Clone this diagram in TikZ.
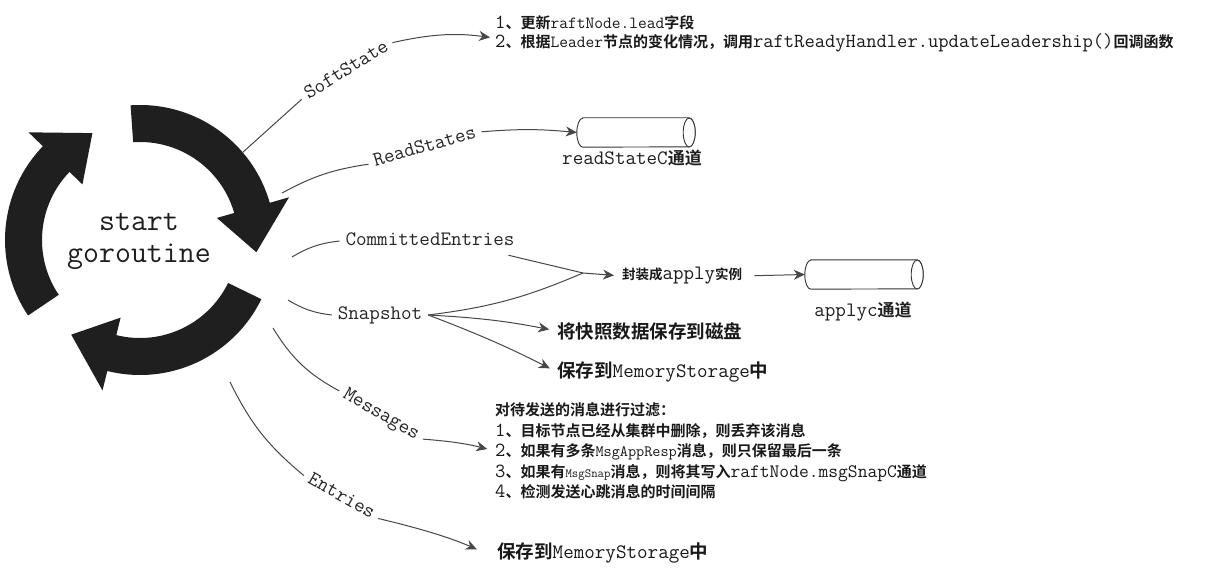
\documentclass[tikz,border=0pt]{standalone}
\usepackage{fontspec}
\newfontfamily\cjk{Noto Sans CJK SC Bold}
\usetikzlibrary{arrows.meta,calc}
\newcommand\z[2][15]{{\cjk\fontsize{#1}{#1}\selectfont #2}}
\newcommand\mz[2]{{\fontsize{#1}{#1}\selectfont #2}}
\newcommand\cylpath[1]{%
  \draw[cylstyle] ($(#1.north west)+(6,0)$) -- ($(#1.north east)+(-6,0)$)
    arc[start angle=90, end angle=-90, x radius=6pt, y radius=14.5pt]
    -- ($(#1.south west)+(6,0)$)
    arc[start angle=270, end angle=90, x radius=6pt, y radius=14.5pt] -- cycle;
  \draw[cylstyle] ($(#1.east)+(-6,0)$) ellipse[x radius=6pt, y radius=14.5pt];}
\begin{document}
\begin{tikzpicture}[x=1pt,y=-1pt,
  ink/.style={text=black!88},
  conn/.style={draw=black!72, line width=1pt},
  arr/.style={conn, -{Stealth[length=11pt,width=10pt,inset=3.5pt]}},
  lbl/.style={font=\ttfamily\fontsize{20.5}{20.5}\selectfont, text=black!85,
    inner sep=0pt, outer sep=6pt, text height=12.5pt, text depth=4pt},
  tgt/.style={text=black!90, inner sep=0pt, anchor=west},
  bigarr/.style={fill=black!88},
  cylstyle/.style={draw=black!80, line width=0.9pt, fill=white},
  cylnode/.style={minimum width=118pt, minimum height=29pt, inner sep=0pt},
]
\useasboundingbox (0,0) rectangle (1215,575);
\fill[white] (0,0) rectangle (1215,575);

% circular arrows
\coordinate (C) at (140,240);
\foreach \t [evaluate=\t as \b using \t-78, evaluate=\t as \p using \t-100] in {94,-26,-146}
  \fill[bigarr] ($(C)+(\t:135pt)$) arc[start angle=\t, end angle=\b, radius=135pt]
    -- ($(C)+(\b:155pt)$) -- ($(C)+(\p:117pt)$) -- ($(C)+(\b:80pt)$)
    -- ($(C)+(\b:98pt)$) arc[start angle=\b, end angle=\t, radius=98pt] -- cycle;

\node[ink, font=\ttfamily\fontsize{31}{32}\selectfont, align=center, inner sep=0pt] (start) at (139,241.5) {start\\goroutine};

% start points on the circle
\coordinate (s1) at (242,153);
\coordinate (s2) at (282,193);
\coordinate (s3) at (292,257);
\coordinate (s4) at (288,300);
\coordinate (s5) at (273,328);
\coordinate (s6) at (230,382);

% labels
\node[lbl, rotate=32] (lsoft) at (347,71) {SoftState};
\node[lbl, rotate=16] (lread) at (425,148) {ReadStates};
\node[lbl] (lce) at (430,241) {CommittedEntries};
\node[lbl] (lsnap) at (380,315) {Snapshot};
\node[lbl, rotate=-30] (lmsg) at (381,415) {Messages};
\node[lbl, rotate=-30] (lent) at (341,497) {Entries};

% targets
\node[tgt, align=left, font=\ttfamily\fontsize{20}{18.5}\selectfont] (soft) at (495,34)
  {1\z{、更新}\mz{17}{raftNode.lead}\z{字段}\\
   2\z{、根据}\mz{17}{Leader}\z{节点的变化情况，调用}raftReadyHandler.updateLeadership()\z{回调函数}};

\node[cylnode] (rsc) at (636,132.5) {};
\cylpath{rsc}
\node[ink, font=\ttfamily\fontsize{20.5}{20.5}\selectfont, inner sep=0pt] (rsclbl) at (632,158) {readStateC\z[17]{通道}};

\node[tgt, font=\ttfamily\fontsize{20.4}{20.4}\selectfont] (apply) at (622,276) {\z[13.5]{封装成}apply\z[13.5]{实例}};
\node[cylnode] (applyc) at (864,274.5) {};
\cylpath{applyc}
\node[ink, font=\ttfamily\fontsize{20.5}{20.5}\selectfont, inner sep=0pt] (applyclbl) at (863,312) {applyc\z[17]{通道}};

\node[tgt, font=\ttfamily\fontsize{20.5}{20.5}\selectfont] (disk) at (557,331) {\z[18.5]{将快照数据保存到磁盘}};
\node[tgt, font=\ttfamily\fontsize{20.5}{20.5}\selectfont] (mem1) at (557,372) {\z[18.5]{保存到}MemoryStorage\z[18.5]{中}};

\node[tgt, align=left, font=\ttfamily\fontsize{20}{20.5}\selectfont] (msgs) at (495,451)
  {\z{对待发送的消息进行过滤：}\\
   1\z{、目标节点已经从集群中删除，则丢弃该消息}\\
   2\z{、如果有多条}\mz{15.8}{MsgAppResp}\z{消息，则只保留最后一条}\\
   3\z{、如果有}\mz{12.5}{MsgSnap}\z{消息，则将其写入}\mz{19}{raftNode.msgSnapC}\z{通道}\\
   4\z{、检测发送心跳消息的时间间隔}};

\node[tgt, font=\ttfamily\fontsize{20.5}{20.5}\selectfont] (mem2) at (497,553) {\z[18.5]{保存到}MemoryStorage\z[18.5]{中}};

% connectors
\draw[conn] (s1) -- (lsoft.west);
\draw[arr, shorten >=5pt] (lsoft.east) to[bend left=10] ($(soft.west)+(0,4)$);
\draw[conn] (s2) to[bend left=10] (lread.west);
\draw[arr] (lread.east) to[bend left=5] (rsc.west);
\draw[conn] (s3) to[bend left=12] (lce.west);
\coordinate (merge) at (583,273);
\draw[conn] ($(lce.south east)+(-12,0)$) -- (merge);
\draw[conn] (s4) to[bend right=12] (lsnap.west);
\draw[conn] (lsnap.east) to[bend right=8] (merge);
\draw[arr, shorten >=8pt] (merge) -- (apply.west);
\draw[arr, shorten >=8pt] (lsnap.east) to[bend left=4] (disk.west);
\draw[arr, shorten >=8pt] (lsnap.east) to[bend left=3] (mem1.west);
\draw[arr, shorten <=12pt] (apply.east) -- (applyc.west);
\draw[conn] (s5) to[bend right=15] (lmsg.west);
\draw[arr, shorten >=8pt] (lmsg.east) to[bend left=5] (msgs.west);
\draw[conn] (s6) to[bend right=12] (lent.west);
\draw[arr, shorten >=22pt] (lent.east) to[bend left=5] ($(mem2.west)+(0,5)$);
\end{tikzpicture}
\end{document}
